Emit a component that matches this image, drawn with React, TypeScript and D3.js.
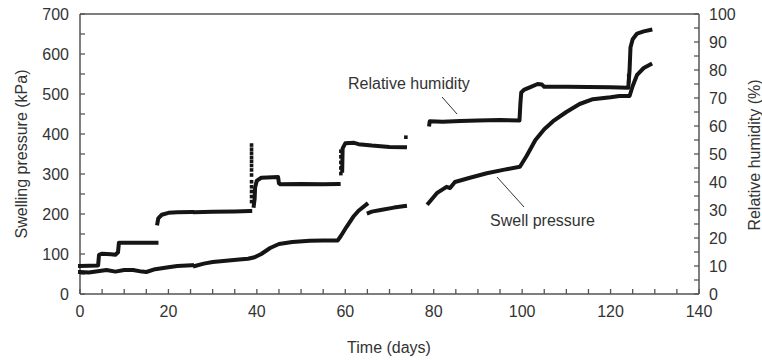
import React from 'react';
import * as d3 from 'd3';

type Pt = [number, number] | null;

const X_TICKS = [0, 20, 40, 60, 80, 100, 120, 140];
const X_MINOR = d3.range(0, 141, 5);
const LEFT_TICKS = [0, 100, 200, 300, 400, 500, 600, 700];
const LEFT_MINOR = d3.range(0, 701, 50);
const RIGHT_TICKS = [0, 10, 20, 30, 40, 50, 60, 70, 80, 90, 100];
const RIGHT_MINOR = d3.range(0, 101, 5);

// Relative humidity (%) vs time (days); null = gap in record
const humidity: Pt[] = [
  [0, 10], [2, 10.1], [4.1, 10.2], [4.3, 14.0], [5, 14.4], [7, 14.2], [8, 14.0], [8.6, 14.9],
  [8.8, 18.3], [12, 18.3], [17.3, 18.3], null,
  [17.5, 25.2], [17.7, 27], [18.5, 28.3], [20, 29], [22, 29.2], [25.4, 29.3], null,
  [26, 29.2], [30, 29.4], [35, 29.5], [38.5, 29.6], null,
  [39.3, 31.5], [39.5, 34], [39.6, 38], [40, 40.5], [41, 41.5], [44.8, 41.8], [45, 39.5],
  [45.3, 39.2], [50, 39.3], [55, 39.2], [58.5, 39.3], null,
  [59.3, 44], [59.4, 52], [60, 53.8], [62, 54], [63, 53.5], [66, 53], [70, 52.5], [73.5, 52.4], null,
  [79, 60.5], [79.1, 61.7], [82, 61.5], [86, 61.8], [90, 62], [95, 62.1], [99.4, 62],
  [99.6, 68], [99.8, 72], [100.5, 73], [102, 74], [103.5, 75], [104.5, 74.8], [105, 74],
  [110, 74], [115, 73.9], [120, 73.8], [124, 73.7], [124.3, 80], [124.5, 88], [125, 91],
  [126, 93], [127.5, 93.8], [129, 94.3],
];

// Isolated humidity readings during transitions
const humidityMarkers: [number, number][] = [
  [38.8, 53.2], [38.8, 51.7], [38.8, 50.3], [38.8, 48.8], [38.8, 47.4], [38.8, 45.9],
  [38.8, 44.3], [38.8, 42.5], [38.8, 40.1], [38.8, 38.3], [38.8, 36.6], [38.8, 34.8], [38.8, 33],
  [59, 51], [59, 49], [59, 47], [59, 45], [59, 43],
  [73.7, 56],
  [124.1, 76], [124.1, 78],
];

// Swelling pressure (kPa) vs time (days)
const swellPressure: Pt[] = [
  [0, 55], [2, 54], [4, 57], [6, 60], [8, 56], [10, 60], [12, 60], [14, 56], [15, 55],
  [17, 62], [20, 67], [22, 70], [25.3, 72], null,
  [26, 70], [28, 76], [30, 80], [33, 83], [36, 86], [38, 88], [39.5, 92], [41, 100],
  [43, 115], [45, 125], [48, 130], [52, 133], [55, 134], [58.3, 134], [59, 145],
  [60.3, 168], [61.8, 193], [63, 208], [64.8, 224], null,
  [65.3, 203], [66, 206], [68, 210], [71, 216], [73.5, 220], null,
  [78.8, 227], [80.7, 252], [82.9, 268], [83.7, 265], [84.8, 280], [88, 290], [92, 302],
  [96, 311], [99.5, 318], [101, 345], [103, 385], [105, 412], [107, 432], [110, 455],
  [113, 475], [116, 487], [120, 492], [122, 495], [124.3, 495], [125, 520], [126, 548],
  [127.5, 565], [129, 574],
];

const W = 762, H = 361;
const L = 80, R = 699, T = 14, B = 294;
const FONT = '"Liberation Sans", Arial, Helvetica, sans-serif';
const AX = '#555';
const TXT = '#333';
const INK = '#151515';

export default function App() {
  const x = d3.scaleLinear().domain([0, 140]).range([L, R]);
  const yL = d3.scaleLinear().domain([0, 700]).range([B, T]);
  const yR = d3.scaleLinear().domain([0, 100]).range([B, T]);

  const lineR = d3.line<Pt>().defined(d => d !== null).x(d => x(d![0])).y(d => yR(d![1]));
  const lineL = d3.line<Pt>().defined(d => d !== null).x(d => x(d![0])).y(d => yL(d![1]));

  const tl = 5;
  return (
    <svg width={W} height={H} style={{ position: 'absolute', left: 0, top: 0, background: '#fff' }} fontFamily={FONT}>
      <rect x={0} y={0} width={W} height={H} fill="#fff" />
      {/* frame */}
      <line x1={L} y1={T} x2={R} y2={T} stroke={AX} strokeWidth={1.5} />
      <line x1={L} y1={T} x2={L} y2={B} stroke={AX} strokeWidth={1.5} />
      <line x1={R} y1={T} x2={R} y2={B} stroke={AX} strokeWidth={1.5} />
      <line x1={L} y1={B} x2={R} y2={B} stroke={AX} strokeWidth={1.5} />
      {X_MINOR.map(v => (
        <line key={'xm' + v} x1={x(v)} x2={x(v)} y1={B} y2={B - tl} stroke={AX} strokeWidth={1.3} />
      ))}
      {LEFT_MINOR.map(v => (
        <line key={'lm' + v} x1={L} x2={L + tl} y1={yL(v)} y2={yL(v)} stroke={AX} strokeWidth={1.3} />
      ))}
      {RIGHT_MINOR.map(v => (
        <line key={'rm' + v} x1={R} x2={R - tl} y1={yR(v)} y2={yR(v)} stroke={AX} strokeWidth={1.3} />
      ))}
      {X_TICKS.map(v => (
        <text key={'xt' + v} x={x(v)} y={317} textAnchor="middle" fontSize={16} fill={TXT}>{v}</text>
      ))}
      {LEFT_TICKS.map(v => (
        <text key={'lt' + v} x={69} y={yL(v) + 5.5} textAnchor="end" fontSize={16} fill={TXT}>{v}</text>
      ))}
      {RIGHT_TICKS.map(v => (
        <text key={'rt' + v} x={709} y={yR(v) + 5.5} textAnchor="start" fontSize={16} fill={TXT}>{v}</text>
      ))}
      <text x={389} y={353} textAnchor="middle" fontSize={16} fill={TXT}>Time (days)</text>
      <text transform="translate(27,154) rotate(-90)" textAnchor="middle" fontSize={16} fill={TXT}>Swelling pressure (kPa)</text>
      <text transform="translate(760,155) rotate(-90)" textAnchor="middle" fontSize={16} fill={TXT}>Relative humidity (%)</text>

      {/* data */}
      <path d={lineR(humidity) || ''} fill="none" stroke={INK} strokeWidth={4} strokeLinejoin="round" strokeLinecap="square" />
      <path d={lineL(swellPressure) || ''} fill="none" stroke={INK} strokeWidth={4} strokeLinejoin="round" strokeLinecap="square" />
      {humidityMarkers.map((d, i) => (
        <rect key={'hm' + i} x={x(d[0]) - 1.8} y={yR(d[1]) - 1.8} width={3.6} height={3.6} fill={INK} />
      ))}

      {/* annotations */}
      <text x={348} y={89} fontSize={16} fill={TXT}>Relative humidity</text>
      <line x1={442} y1={97} x2={457} y2={114} stroke={TXT} strokeWidth={1} />
      <text x={490} y={226} fontSize={16} fill={TXT}>Swell pressure</text>
      <line x1={497} y1={177} x2={524} y2={207} stroke={TXT} strokeWidth={1} />
    </svg>
  );
}
